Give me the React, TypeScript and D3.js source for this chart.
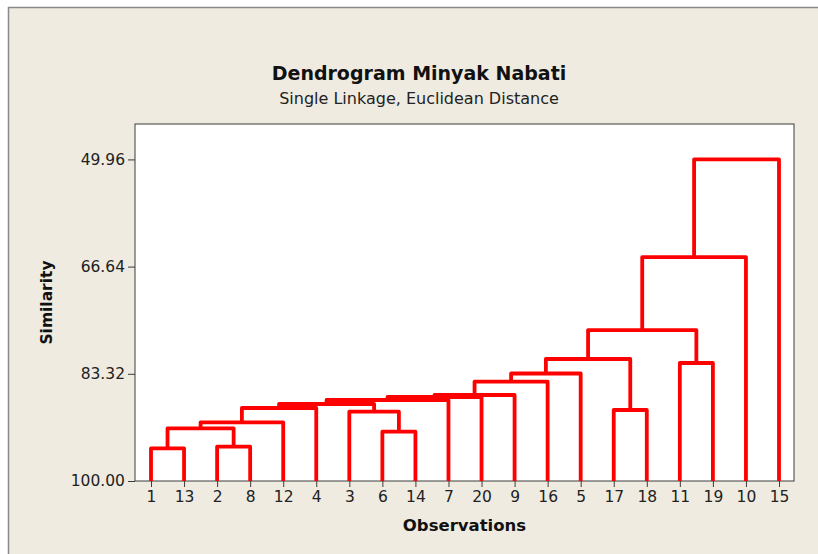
import React, { useEffect, useRef } from 'react';
import * as d3 from 'd3';

// leaf order along the x axis (observation numbers)
const leafOrder = [1, 13, 2, 8, 12, 4, 3, 6, 14, 7, 20, 9, 16, 5, 17, 18, 11, 19, 10, 15];

// amalgamation steps: positive = observation, negative = earlier step (1-based)
const mergeLeft = [1, 2, 6, -1, -4, 3, 17, -5, -8, -9, -10, -11, -12, -13, 11, -14, -16, -17, -18];
const mergeRight = [13, 8, 14, -2, 12, -3, 18, 4, -6, 7, 20, 9, 16, 5, 19, -7, -15, 10, 15];
const mergeSimilarity = [
  94.91, 94.66, 92.33, 91.8, 90.87, 89.22, 88.95, 88.64, 88.02, 87.4,
  86.93, 86.62, 84.55, 83.27, 81.64, 81.02, 76.51, 65.15, 49.96,
];

const yTicks = [49.96, 66.64, 83.32, 100.0];

const W = 818;
const H = 554;
const FONT = '"DejaVu Sans", Verdana, sans-serif';

const App: React.FC = () => {
  const svgRef = useRef<SVGSVGElement>(null);

  useEffect(() => {
    if (!svgRef.current) return;
    const svg = d3.select(svgRef.current);
    svg.selectAll('*').remove();

    const plot = { left: 135, right: 794, top: 124, bottom: 481 };

    // background + graph frame
    svg.append('rect').attr('width', W).attr('height', H).attr('fill', '#ffffff');
    svg.append('rect')
      .attr('x', 8.5).attr('y', 7.5)
      .attr('width', 830).attr('height', 570)
      .attr('fill', '#efebe1')
      .attr('stroke', '#8a8a8a')
      .attr('stroke-width', 1.5);

    const xScale = d3.scalePoint<string>()
      .domain(leafOrder.map(String))
      .range([151, 779]);

    const yScale = d3.scaleLinear()
      .domain([100, 44.45])
      .range([plot.bottom, plot.top]);

    // plot area
    svg.append('rect')
      .attr('x', plot.left).attr('y', plot.top)
      .attr('width', plot.right - plot.left)
      .attr('height', plot.bottom - plot.top)
      .attr('fill', '#ffffff')
      .attr('stroke', '#3c3c3c')
      .attr('stroke-width', 1);

    // y axis
    const yAxisG = svg.append('g')
      .attr('transform', `translate(${plot.left},0)`)
      .call(d3.axisLeft(yScale).tickValues(yTicks).tickSize(7).tickPadding(3).tickFormat(d3.format('.2f')));
    yAxisG.select('.domain').remove();
    yAxisG.selectAll('line').attr('stroke', '#3c3c3c');
    yAxisG.selectAll('text')
      .attr('fill', '#222')
      .attr('font-size', '15.5px')
      .attr('font-family', FONT);

    // x axis
    const xAxisG = svg.append('g')
      .attr('transform', `translate(0,${plot.bottom})`)
      .call(d3.axisBottom(xScale).tickSize(6).tickPadding(4));
    xAxisG.select('.domain').remove();
    xAxisG.selectAll('line').attr('stroke', '#3c3c3c');
    xAxisG.selectAll('text')
      .attr('fill', '#222')
      .attr('font-size', '15.5px')
      .attr('font-family', FONT);

    // dendrogram links
    const stepX: number[] = [];
    const nodeX = (ref: number) => (ref > 0 ? (xScale(String(ref)) as number) : stepX[-ref - 1]);
    const nodeSim = (ref: number) => (ref > 0 ? 100 : mergeSimilarity[-ref - 1]);

    const paths: string[] = [];
    mergeSimilarity.forEach((s, i) => {
      const l = mergeLeft[i];
      const r = mergeRight[i];
      const xl = nodeX(l);
      const xr = nodeX(r);
      stepX.push((xl + xr) / 2);
      const p = d3.path();
      p.moveTo(xl, yScale(nodeSim(l)));
      p.lineTo(xl, yScale(s));
      p.lineTo(xr, yScale(s));
      p.lineTo(xr, yScale(nodeSim(r)));
      paths.push(p.toString());
    });

    svg.append('g')
      .selectAll('path')
      .data(paths)
      .enter()
      .append('path')
      .attr('d', d => d)
      .attr('fill', 'none')
      .attr('stroke', '#ff0000')
      .attr('stroke-width', 3.8)
      .attr('stroke-linejoin', 'round');

    // titles
    svg.append('text')
      .attr('x', 419).attr('y', 80)
      .attr('text-anchor', 'middle')
      .attr('font-family', FONT)
      .attr('font-weight', 'bold')
      .attr('font-size', '19px')
      .attr('fill', '#111')
      .text('Dendrogram Minyak Nabati');

    svg.append('text')
      .attr('x', 419).attr('y', 104)
      .attr('text-anchor', 'middle')
      .attr('font-family', FONT)
      .attr('font-size', '16px')
      .attr('fill', '#222')
      .text('Single Linkage, Euclidean Distance');

    svg.append('text')
      .attr('x', (plot.left + plot.right) / 2).attr('y', 531)
      .attr('text-anchor', 'middle')
      .attr('font-family', FONT)
      .attr('font-weight', 'bold')
      .attr('font-size', '16.5px')
      .attr('fill', '#111')
      .text('Observations');

    svg.append('text')
      .attr('transform', `translate(52,${(plot.top + plot.bottom) / 2}) rotate(-90)`)
      .attr('text-anchor', 'middle')
      .attr('font-family', FONT)
      .attr('font-weight', 'bold')
      .attr('font-size', '15.5px')
      .attr('fill', '#111')
      .text('Similarity');
  }, []);

  return (
    <svg
      ref={svgRef}
      width={W}
      height={H}
      style={{ position: 'absolute', left: 0, top: 0, display: 'block' }}
    />
  );
};

export default App;
